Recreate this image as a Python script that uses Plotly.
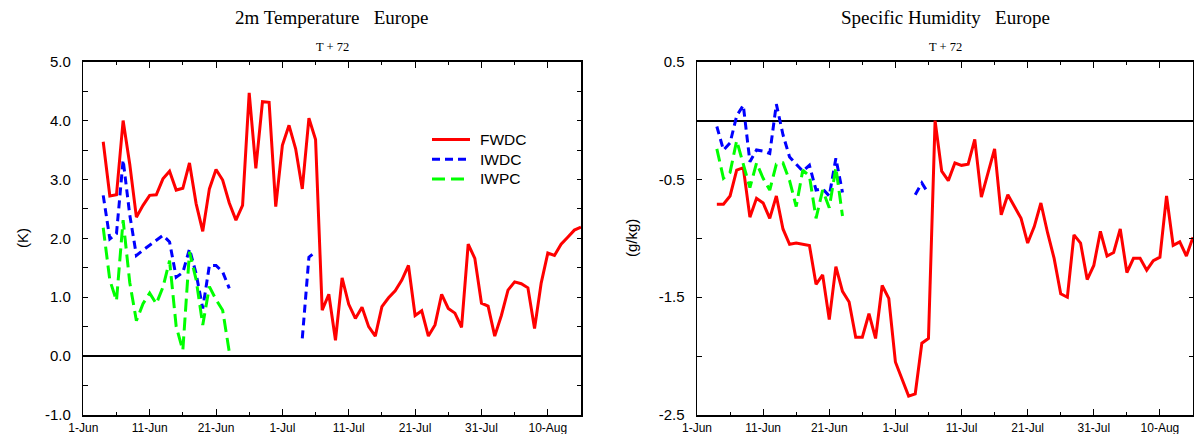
import pandas as pd
import plotly.graph_objects as go

# ---------------- data ----------------
dates = pd.date_range("2000-06-04", "2000-08-15", freq="D")  # 73 daily points

t2m_fwdc = [3.64, 2.72, 2.74, 4.00, 3.26, 2.36, 2.56, 2.73, 2.74, 3.01,
            3.14, 2.82, 2.85, 3.28, 2.59, 2.12, 2.84, 3.17, 2.99, 2.60,
            2.31, 2.56, 4.47, 3.19, 4.32, 4.31, 2.54, 3.58, 3.92, 3.52,
            2.84, 4.04, 3.68, 0.78, 1.05, 0.27, 1.33, 0.88, 0.64, 0.83,
            0.50, 0.34, 0.84, 0.99, 1.11, 1.29, 1.54, 0.69, 0.77, 0.34,
            0.53, 1.05, 0.81, 0.73, 0.49, 1.90, 1.66, 0.90, 0.85, 0.34,
            0.69, 1.12, 1.26, 1.23, 1.16, 0.47, 1.24, 1.75, 1.71, 1.90,
            2.02, 2.14, 2.19]
t2m_iwdc = ([2.73, 1.99, 2.08, 3.33, 2.40, 1.71, 1.80, 1.88, 1.97, 2.05,
             1.94, 1.34, 1.42, 1.82, 1.40, 0.81, 1.54, 1.54, 1.43, 1.15]
            + [None] * 10 + [0.30, 1.68, 1.77] + [None] * 40)
t2m_iwpc = ([2.18, 1.29, 0.94, 2.31, 1.25, 0.60, 0.89, 1.07, 0.89, 1.17,
             1.62, 0.50, 0.10, 1.77, 1.30, 0.53, 1.18, 0.96, 0.78, 0.07]
            + [None] * 53)

q_fwdc = [-0.71, -0.71, -0.64, -0.42, -0.40, -0.82, -0.66, -0.70, -0.83, -0.64,
          -0.92, -1.05, -1.04, -1.05, -1.06, -1.39, -1.31, -1.69, -1.24, -1.45,
          -1.54, -1.84, -1.84, -1.64, -1.85, -1.40, -1.51, -2.05, -2.20, -2.34,
          -2.32, -1.89, -1.85, 0.00, -0.43, -0.51, -0.36, -0.38, -0.37, -0.16,
          -0.65, -0.45, -0.24, -0.80, -0.63, -0.73, -0.83, -1.04, -0.90, -0.70,
          -0.95, -1.17, -1.47, -1.50, -0.97, -1.04, -1.35, -1.23, -0.94, -1.15,
          -1.12, -0.92, -1.29, -1.17, -1.17, -1.27, -1.19, -1.16, -0.64, -1.06,
          -1.03, -1.15, -0.99]
q_iwdc = ([-0.05, -0.25, -0.19, 0.04, 0.13, -0.35, -0.25, -0.26, -0.28, 0.14,
           -0.12, -0.31, -0.37, -0.43, -0.38, -0.59, -0.58, -0.64, -0.32, -0.61]
          + [None] * 10 + [-0.63, -0.53, -0.62] + [None] * 40)
q_iwpc = ([-0.24, -0.49, -0.44, -0.17, -0.37, -0.57, -0.36, -0.49, -0.59, -0.37,
           -0.36, -0.51, -0.73, -0.42, -0.47, -0.83, -0.59, -0.74, -0.40, -0.81]
          + [None] * 53)

series_names = ["FWDC", "IWDC", "IWPC"]
titles = ["2m Temperature\u00a0\u00a0\u00a0Europe", "Specific Humidity\u00a0\u00a0\u00a0Europe"]
subtitle = "T + 72"
y_titles = ["(K)", "(g/kg)"]
left_ticks = [-1.0, 0.0, 1.0, 2.0, 3.0, 4.0, 5.0]
right_ticks = [-2.5, -1.5, -0.5, 0.5]

# ---------------- styling ----------------
W, H = 1194, 434
styles = {
    "FWDC": dict(color="#ff0000", width=3, dash="solid"),
    "IWDC": dict(color="#0000ff", width=3, dash="8px,5px"),
    "IWPC": dict(color="#00ff00", width=3, dash="13px,6px"),
}

def px_x(p):
    return p / W

def px_y(p):
    return 1 - p / H

ydom = [px_y(415), px_y(61.7)]
xdom_l = [px_x(83.3), px_x(581)]
xdom_r = [px_x(697), px_x(1193)]

fig = go.Figure()
for name, vals in zip(series_names, [t2m_fwdc, t2m_iwdc, t2m_iwpc]):
    fig.add_trace(go.Scatter(x=dates, y=vals, mode="lines", name=name,
                             line=styles[name], xaxis="x", yaxis="y",
                             showlegend=False, connectgaps=False))
for name, vals in zip(series_names, [q_fwdc, q_iwdc, q_iwpc]):
    fig.add_trace(go.Scatter(x=dates, y=vals, mode="lines", name=name,
                             line=styles[name], xaxis="x2", yaxis="y2",
                             showlegend=False, connectgaps=False))

def xaxis_cfg(domain, anchor):
    return dict(domain=domain, anchor=anchor, type="date", automargin=False,
                range=["2000-06-01", "2000-08-15"],
                tick0="2000-06-01", dtick=864000000, tickformat="%-d-%b",
                ticks="inside", ticklen=6, tickwidth=1, tickcolor="black",
                showline=True, linecolor="black", linewidth=1.5,
                mirror="allticks", showgrid=False, zeroline=False,
                tickfont=dict(family="Arial, Liberation Sans", size=12, color="black"),
                ticklabelstandoff=1,
                minor=dict(dtick=432000000, tick0="2000-06-01", ticks="inside",
                           ticklen=3.5, tickcolor="black", showgrid=False))

def yaxis_cfg(domain, anchor, rng, ticks, minor_dtick, minor_tick0):
    return dict(domain=domain, anchor=anchor, range=rng, automargin=False,
                tickmode="array", tickvals=ticks,
                ticktext=[f"{v:.1f}" for v in ticks],
                ticks="inside", ticklen=4.5, tickwidth=1, tickcolor="black",
                showline=True, linecolor="black", linewidth=1.5,
                mirror="allticks", showgrid=False,
                zeroline=True, zerolinecolor="black", zerolinewidth=2,
                tickfont=dict(family="Arial, Liberation Sans", size=15, color="black"),
                ticklabelstandoff=8,
                minor=dict(dtick=minor_dtick, tick0=minor_tick0, ticks="inside",
                           ticklen=4.5, tickcolor="black", showgrid=False))

annotations = []
for cx, t in zip([332, 945], titles):
    annotations.append(dict(x=px_x(cx), y=px_y(17), xref="paper", yref="paper",
                            text=t, showarrow=False, xanchor="center", yanchor="middle",
                            font=dict(family="Liberation Serif, Times New Roman", size=19, color="black")))
    annotations.append(dict(x=px_x(cx), y=px_y(47), xref="paper", yref="paper",
                            text=subtitle, showarrow=False, xanchor="center", yanchor="middle",
                            font=dict(family="Liberation Serif, Times New Roman", size=12.5, color="black")))
for cx, t in zip([23, 632], y_titles):
    annotations.append(dict(x=px_x(cx), y=px_y(238), xref="paper", yref="paper",
                            text=t, showarrow=False, textangle=-90,
                            xanchor="center", yanchor="middle",
                            font=dict(family="Arial, Liberation Sans", size=15, color="black")))

# manual legend (left panel)
shapes = []
for i, name in enumerate(series_names):
    yy = 139.5 + i * 19.7
    st = styles[name]
    shapes.append(dict(type="line", xref="paper", yref="paper",
                       x0=px_x(432), x1=px_x(470), y0=px_y(yy), y1=px_y(yy),
                       line=dict(color=st["color"], width=3, dash=st["dash"])))
    annotations.append(dict(x=px_x(478), y=px_y(yy), xref="paper", yref="paper",
                            text=name, showarrow=False, xanchor="left", yanchor="middle",
                            font=dict(family="Arial, Liberation Sans", size=15.5, color="black")))

fig.update_layout(
    width=W, height=H,
    margin=dict(l=0, r=0, t=0, b=0, pad=0, autoexpand=False),
    paper_bgcolor="white", plot_bgcolor="white",
    showlegend=False,
    hovermode=False,
    xaxis=xaxis_cfg(xdom_l, "y"),
    yaxis=yaxis_cfg(ydom, "x", [-1, 5], left_ticks, 0.5, 0),
    xaxis2=xaxis_cfg(xdom_r, "y2"),
    yaxis2=yaxis_cfg(ydom, "x2", [-2.5, 0.5], right_ticks, 0.5, 0),
    annotations=annotations,
    shapes=shapes,
)

fig.write_html("out.html",
               config={"displayModeBar": False, "staticPlot": True},
               post_script="document.body.style.margin='0px';"
                           "document.body.style.overflow='hidden';")
